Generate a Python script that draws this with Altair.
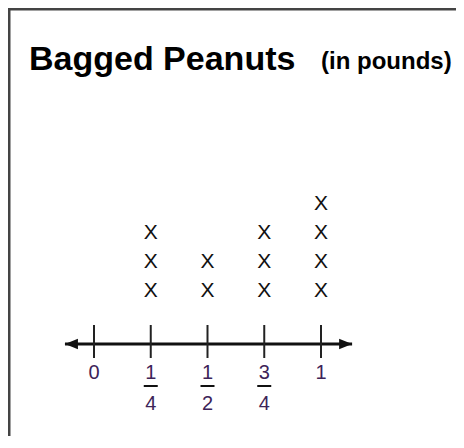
import altair as alt
import pandas as pd

# ---- data ----
values = [0, 0.25, 0.5, 0.75, 1]
counts = [0, 3, 2, 3, 4]
numerators = ["0", "1", "1", "3", "1"]
denominators = ["", "4", "2", "4", ""]
title_text = "Bagged Peanuts"
unit_text = "(in pounds)"

# ---- layout (in row units / value units) ----
AXIS_Y = -0.845
TICK_TOP, TICK_BOT = -0.19, -1.328
NUM_Y, BAR_Y, DEN_Y = -1.845, -2.293, -2.914
ARROW_L, ARROW_R = -0.128, 1.137

# ---- tables ----
xs = pd.DataFrame([{"v": v, "row": r} for v, c in zip(values, counts) for r in range(1, c + 1)])
ticks = pd.DataFrame({"v": values, "num": numerators, "den": denominators})
ticks["yt"] = TICK_TOP
ticks["yb"] = TICK_BOT
ticks["yn"] = NUM_Y
fracs = ticks[ticks["den"] != ""].copy()
half = 7 / 227
fracs["xl"] = fracs["v"] - half
fracs["xr"] = fracs["v"] + half
fracs["ybar"] = BAR_Y
fracs["yd"] = DEN_Y
axis_df = pd.DataFrame({"x1": [ARROW_L], "x2": [ARROW_R], "y": [AXIS_Y]})
left_df = pd.DataFrame({"v": [ARROW_L], "y": [AXIS_Y]})
right_df = pd.DataFrame({"v": [ARROW_R], "y": [AXIS_Y]})

W, H = 448, 428
xscale = alt.Scale(domain=[-86 / 227, (W - 86) / 227], nice=False, zero=False)
yscale = alt.Scale(domain=[1 - (H - 282.5) / 29, 1 + 282.5 / 29], nice=False, zero=False)


def X(f):
    return alt.X(f, type="quantitative", scale=xscale, axis=None)


def Y(f):
    return alt.Y(f, type="quantitative", scale=yscale, axis=None)


FONT = "Liberation Sans, Arial, sans-serif"

base_axis = alt.Chart(axis_df).mark_rule(color="#111", strokeWidth=3).encode(
    x=X("x1"), x2="x2", y=Y("y")
)

left_arrow = alt.Chart(left_df).mark_point(
    shape="M0,0L2,-0.8L2,0.8Z", size=169, filled=True, color="#111", opacity=1
).encode(x=X("v"), y=Y("y"))
right_arrow = alt.Chart(right_df).mark_point(
    shape="M0,0L-2,-0.8L-2,0.8Z", size=169, filled=True, color="#111", opacity=1
).encode(x=X("v"), y=Y("y"))

tick_marks = alt.Chart(ticks).mark_rule(color="#222", strokeWidth=2).encode(
    x=X("v"), y=Y("yt"), y2="yb"
)

num_labels = alt.Chart(ticks).mark_text(
    font=FONT, fontSize=20, color="#3d2358", baseline="middle"
).encode(x=X("v"), y=Y("yn"), text="num:N")

den_labels = alt.Chart(fracs).mark_text(
    font=FONT, fontSize=20, color="#3d2358", baseline="middle"
).encode(x=X("v"), y=Y("yd"), text="den:N")

bars = alt.Chart(fracs).mark_rule(color="#111", strokeWidth=2).encode(
    x=X("xl"), x2="xr", y=Y("ybar")
)

x_marks = alt.Chart(xs).mark_text(
    text="X", font=FONT, fontSize=21, color="#111", baseline="middle"
).encode(x=X("v"), y=Y("row"))

title = alt.Chart(pd.DataFrame({"t": [title_text]})).mark_text(
    font=FONT, fontSize=34, fontWeight="bold",
    color="#000", align="left", baseline="alphabetic"
).encode(x=alt.value(21), y=alt.value(62), text="t:N")

unit = alt.Chart(pd.DataFrame({"t": [unit_text]})).mark_text(
    font=FONT, fontSize=24, fontWeight="bold",
    color="#000", align="left", baseline="alphabetic"
).encode(x=alt.value(313), y=alt.value(61), text="t:N")

border_top = alt.Chart(pd.DataFrame({"a": [0]})).mark_rule(color="#444", strokeWidth=3).encode(
    x=alt.value(0), x2=alt.value(W), y=alt.value(1)
)
border_left = alt.Chart(pd.DataFrame({"a": [0]})).mark_rule(color="#444", strokeWidth=3).encode(
    x=alt.value(1), y=alt.value(0), y2=alt.value(H)
)

chart = alt.layer(
    border_top, border_left, base_axis, left_arrow, right_arrow, tick_marks,
    num_labels, den_labels, bars, x_marks, title, unit
).properties(
    width=W, height=H, autosize=alt.AutoSizeParams(type="none"), padding=0,
    background="white"
).configure_view(stroke=None)

chart.save("out.html", embed_options={"renderer": "svg", "actions": False})
